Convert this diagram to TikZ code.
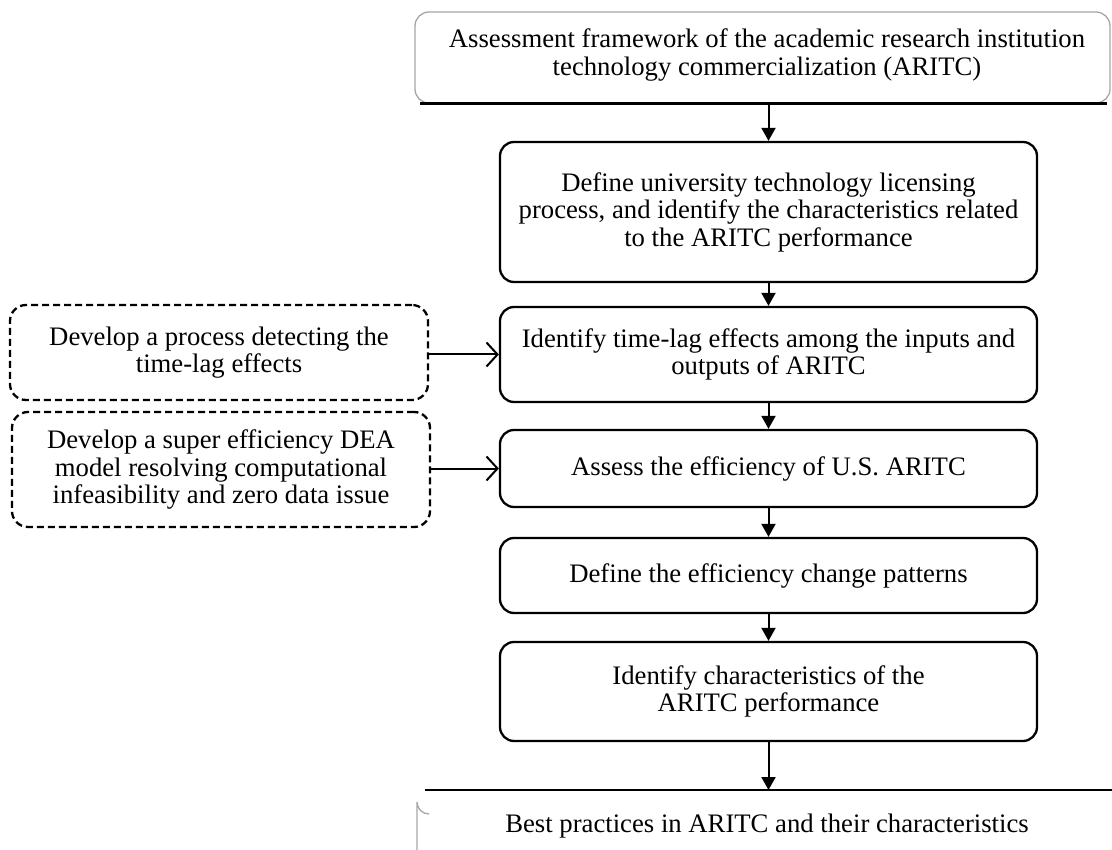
\documentclass[tikz,border=0pt]{standalone}
\usepackage{fontspec}
\setmainfont{Liberation Serif}
\usetikzlibrary{arrows.meta}
\begin{document}
\begin{tikzpicture}[x=1pt,y=-1pt,
  every node/.style={font=\fontsize{26.7}{27.5}\selectfont, align=center, inner sep=0pt},
  mainbox/.style={draw, line width=2.3pt, rounded corners=14pt, minimum width=537pt},
  sidebox/.style={draw, line width=2.3pt, dash pattern=on 7pt off 4pt, rounded corners=16pt,
    minimum width=418pt},
  frame/.style={draw=gray!70, line width=1.3pt, rounded corners=14pt},
  flow/.style={-{Triangle[length=13pt,width=14pt]}, line width=2pt},
  feed/.style={-{Straight Barb[length=11pt,width=24pt,line width=2pt]}, line width=2pt}]
\useasboundingbox (0,0) rectangle (1112,850);
\clip (0,0) rectangle (1112,850);

% framework box at the top
\node[frame, minimum width=695pt, minimum height=91pt] (top) at (762.5,57.5) {};
\draw[line width=2.3pt] ([xshift=6pt]top.south west) -- ([xshift=-4pt]top.south east);
\node (toptext) at (767,55) {Assessment framework of the academic research institution\\
  technology commercialization (ARITC)};

% main steps
\node[mainbox, minimum height=140pt] (define) at (768.5,212) {Define university technology licensing\\
  process, and identify the characteristics related\\ to the ARITC performance};
\node[mainbox, minimum height=95pt] (lag) at (768.5,354.5) {Identify time-lag effects among the inputs and\\
  outputs of ARITC};
\node[mainbox, minimum height=77pt] (assess) at (768.5,468.5) {Assess the efficiency of U.S. ARITC};
\node[mainbox, minimum height=75pt] (pattern) at (768.5,575.5) {Define the efficiency change patterns};
\node[mainbox, minimum height=99pt] (charac) at (768.5,691.5) {Identify characteristics of the\\
  ARITC performance};

% supporting methods
\node[sidebox, minimum height=95pt] (detect) at (219,352.5) {Develop a process detecting the\\
  time-lag effects};
\node[sidebox, minimum height=115pt] (dea) at (221,469.5) {Develop a super efficiency DEA\\
  model resolving computational\\ infeasibility and zero data issue};

% outcome box at the bottom
\coordinate (best) at (768.5,790);
\draw[draw=gray!70, line width=1.3pt] (417,860) -- (417,802) arc[start angle=180, end angle=270, radius=12pt];
\draw[line width=2.3pt] (425,790) -- (1120,790);
\node (besttext) at (767,826) {Best practices in ARITC and their characteristics};

% connectors
\draw[flow] (top.south -| define.north) -- (define.north);
\draw[flow] (define) -- (lag);
\draw[flow] (lag) -- (assess);
\draw[flow] (assess) -- (pattern);
\draw[flow] (pattern) -- (charac);
\draw[flow] (charac.south) -- (best);
\draw[feed] (detect.east |- lag.west) -- (lag.west);
\draw[feed] (dea.east |- assess.west) -- (assess.west);
\end{tikzpicture}
\end{document}
